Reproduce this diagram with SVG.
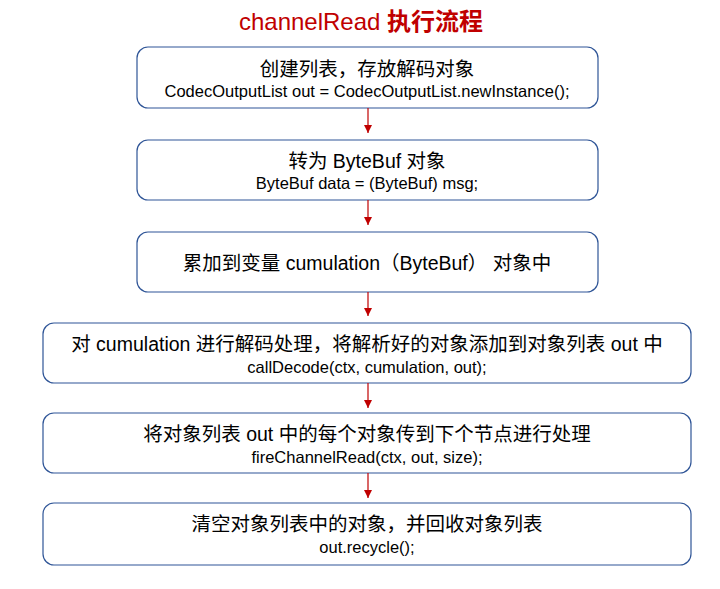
<svg xmlns="http://www.w3.org/2000/svg" width="720" height="589" viewBox="0 0 720 589">
<defs>
<marker id="ah" viewBox="0 0 10 10" refX="10" refY="5" markerWidth="8" markerHeight="8" markerUnits="userSpaceOnUse" orient="auto">
<path d="M0,0 L10,5 L0,10 z" fill="#c00000"/>
</marker>
<style>
.box{fill:#fff;stroke:#2f5597;stroke-width:1.2}
.t1{font-family:"Liberation Sans","Noto Sans CJK SC",sans-serif;font-size:19.5px;fill:#000;text-anchor:middle}
.t2{font-family:"Liberation Sans","Noto Sans CJK SC",sans-serif;font-size:16.5px;fill:#000;text-anchor:middle}
.title{font-family:"Liberation Sans","Noto Sans CJK SC",sans-serif;font-size:24px;fill:#c00000;text-anchor:middle}
.conn{stroke:#c00000;stroke-width:1.2;fill:none}
</style>
</defs>
<rect width="720" height="589" fill="#fff"/>
<text class="title" x="361" y="30">channelRead <tspan font-weight="bold">执行流程</tspan></text>
<g id="n1"><rect class="box" x="137" y="47" width="461" height="61" rx="11"/>
<text class="t1" x="367" y="76">创建列表，存放解码对象</text>
<text class="t2" x="367" y="97">CodecOutputList out = CodecOutputList.newInstance();</text></g>
<g id="n2"><rect class="box" x="137" y="140" width="461" height="60" rx="11"/>
<text class="t1" x="367" y="168">转为 ByteBuf 对象</text>
<text class="t2" x="367" y="189">ByteBuf data = (ByteBuf) msg;</text></g>
<g id="n3"><rect class="box" x="137" y="232" width="461" height="60" rx="11"/>
<text class="t1" x="367" y="270">累加到变量 cumulation（ByteBuf） 对象中</text></g>
<g id="n4"><rect class="box" x="43" y="323" width="648" height="60" rx="11"/>
<text class="t1" x="367" y="351">对 cumulation 进行解码处理，将解析好的对象添加到对象列表 out 中</text>
<text class="t2" x="367" y="373">callDecode(ctx, cumulation, out);</text></g>
<g id="n5"><rect class="box" x="43" y="413" width="648" height="60" rx="11"/>
<text class="t1" x="367" y="441">将对象列表 out 中的每个对象传到下个节点进行处理</text>
<text class="t2" x="367" y="463">fireChannelRead(ctx, out, size);</text></g>
<g id="n6"><rect class="box" x="43" y="503" width="648" height="62" rx="11"/>
<text class="t1" x="367" y="531">清空对象列表中的对象，并回收对象列表</text>
<text class="t2" x="367" y="553">out.recycle();</text></g>
<g id="connectors">
<line class="conn" x1="368" y1="108" x2="368" y2="133" marker-end="url(#ah)"/>
<line class="conn" x1="368" y1="200" x2="368" y2="225" marker-end="url(#ah)"/>
<line class="conn" x1="368" y1="292" x2="368" y2="316" marker-end="url(#ah)"/>
<line class="conn" x1="368" y1="383" x2="368" y2="408" marker-end="url(#ah)"/>
<line class="conn" x1="368" y1="473" x2="368" y2="498" marker-end="url(#ah)"/>
</g>
</svg>
